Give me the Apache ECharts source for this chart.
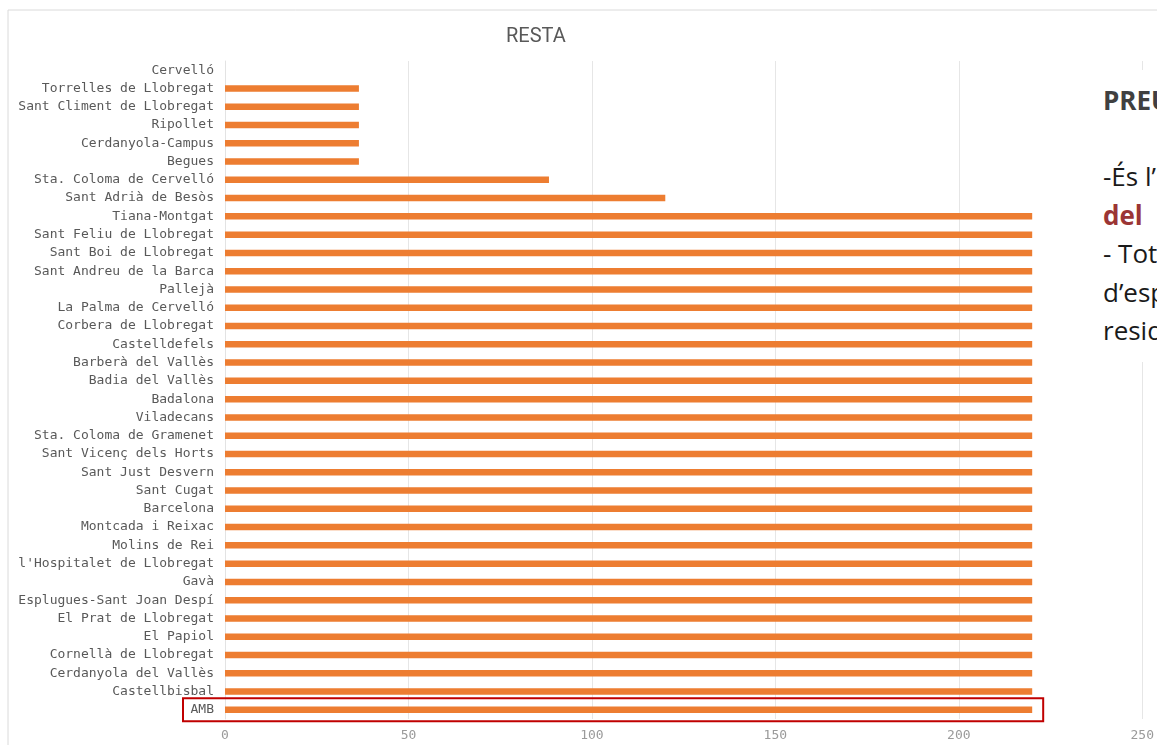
<!DOCTYPE html>
<html><head><meta charset="utf-8">
<script src="https://cdn.jsdelivr.net/npm/echarts@6/dist/echarts.min.js"></script>
<style>
html,body{margin:0;padding:0;width:1157px;height:745px;overflow:hidden;background:#fff}
#chart{position:absolute;left:0;top:0;width:1157px;height:745px}
#note{position:absolute;left:1088px;top:70px;width:200px;height:292px;background:#fff;padding:10.5px 0 0 15px;box-sizing:border-box;
 font-family:"Open Sans","Liberation Sans",sans-serif;font-size:26px;line-height:38.4px;color:#1a1a1a;white-space:nowrap}
#note .h{font-weight:bold;color:#404040}
#note .r{font-weight:bold;color:#9b3535}
</style></head><body>
<div id="chart"></div>
<div id="note"><div class="h">PREU</div><div>&nbsp;</div><div>-És l’</div><div class="r">del</div><div>- Tot</div><div>d’esp</div><div>resid</div></div>
<script>
const chartTitle = 'RESTA';
const categories = [
 'Cervelló','Torrelles de Llobregat','Sant Climent de Llobregat','Ripollet','Cerdanyola-Campus','Begues',
 'Sta. Coloma de Cervelló','Sant Adrià de Besòs','Tiana-Montgat','Sant Feliu de Llobregat','Sant Boi de Llobregat',
 'Sant Andreu de la Barca','Pallejà','La Palma de Cervelló','Corbera de Llobregat','Castelldefels',
 'Barberà del Vallès','Badia del Vallès','Badalona','Viladecans','Sta. Coloma de Gramenet',
 'Sant Vicenç dels Horts','Sant Just Desvern','Sant Cugat','Barcelona','Montcada i Reixac','Molins de Rei',
 "l'Hospitalet de Llobregat",'Gavà','Esplugues-Sant Joan Despí','El Prat de Llobregat','El Papiol',
 'Cornellà de Llobregat','Cerdanyola del Vallès','Castellbisbal','AMB'
];
const values = [
 0,36.5,36.5,36.5,36.5,36.5,
 88.3,120,220,220,220,
 220,220,220,220,220,
 220,220,220,220,220,
 220,220,220,220,220,220,
 220,220,220,220,220,
 220,220,220,220
];
const xTickMin = 0, xTickMax = 250, xTickStep = 50;
const highlighted = 'AMB';

const mono = '"DejaVu Sans Mono","Liberation Mono",monospace';
const chart = echarts.init(document.getElementById('chart'), null, {renderer:'canvas'});
const option = {
  animation:false,
  backgroundColor:'#fff',
  title:{text:chartTitle,left:501,top:22,textStyle:{fontFamily:'Roboto',fontSize:20,fontWeight:'normal',color:'#595959'}},
  grid:{left:225,right:8,top:61,bottom:26,containLabel:false},
  xAxis:{type:'value',min:xTickMin,max:xTickMax,interval:xTickStep,
    axisLine:{show:false},axisTick:{show:false},
    axisLabel:{fontFamily:mono,fontSize:13,color:'#9a9a9a',margin:10},
    splitLine:{lineStyle:{color:'#e6e6e6',width:1}}},
  yAxis:{type:'category',data:categories,inverse:true,
    axisTick:{show:false},
    axisLine:{show:true,lineStyle:{color:'#e3e3e3'}},
    axisLabel:{fontFamily:mono,fontSize:13,color:'#595959',margin:11,interval:0}},
  series:[{type:'bar',data:values,barWidth:6.5,itemStyle:{color:'#ED7D31'},silent:true}],
  graphic:[{type:'rect',z:-10,shape:{x:8,y:10,width:1400,height:900},style:{fill:'none',stroke:'#dadada',lineWidth:1}}]
};
chart.setOption(option);
const idx = categories.indexOf(highlighted);
const yC = chart.convertToPixel({yAxisIndex:0}, highlighted);
const xEnd = chart.convertToPixel({xAxisIndex:0}, values[idx]);
const boxLeft = 183;
chart.setOption({graphic:[
  {type:'rect',z:-10,shape:{x:8,y:10,width:1400,height:900},style:{fill:'none',stroke:'#dadada',lineWidth:1}},
  {type:'rect',z:100,shape:{x:boxLeft,y:yC-11.5,width:xEnd+11-boxLeft,height:23},style:{fill:'none',stroke:'#c00000',lineWidth:2}}
]});
</script>
</body></html>
